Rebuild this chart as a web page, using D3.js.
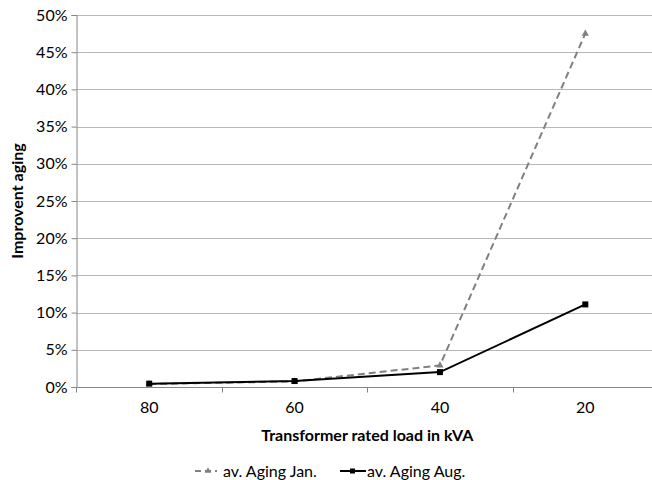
<!DOCTYPE html>
<html>
<head>
<meta charset="utf-8">
<script src="https://cdn.jsdelivr.net/npm/d3@7"></script>
<style>
  body { margin: 0; background: #fff; }
  text { font-family: Lato, "Open Sans", sans-serif; fill: #000; }
</style>
</head>
<body>
<script>
var width = 652, height = 480;

// data
var loads = ['80', '60', '40', '20'];
var agingJan = [0.004, 0.0075, 0.029, 0.475];
var agingAug = [0.0045, 0.008, 0.020, 0.111];
var yTicks = [0, 0.05, 0.10, 0.15, 0.20, 0.25, 0.30, 0.35, 0.40, 0.45, 0.50];

var margin = {left: 76.5, right: 658, top: 15, bottom: 387};
var fontSize = '16px';

var svg = d3.select('body').append('svg')
	.attr('width', width)
	.attr('height', height);

var xscale = d3.scaleBand().domain(loads).range([margin.left, margin.right]);
var yscale = d3.scaleLinear().domain([0, 0.5]).range([margin.bottom, margin.top]);

// gridlines
svg.append('g')
	.selectAll('line')
	.data(yTicks.slice(1))
	.enter().append('line')
	.attr('x1', margin.left).attr('x2', margin.right)
	.attr('y1', d => Math.round(yscale(d)) + 0.5)
	.attr('y2', d => Math.round(yscale(d)) + 0.5)
	.attr('stroke', '#b8b8b8')
	.attr('stroke-width', 1);

// y axis
var y_axis = d3.axisLeft(yscale)
	.tickValues(yTicks)
	.tickFormat(d3.format('.0%'))
	.tickSize(5)
	.tickPadding(4);
var yg = svg.append('g')
	.attr('transform', 'translate(' + margin.left + ',0)')
	.call(y_axis);
yg.selectAll('.domain').attr('stroke', '#868686');
yg.selectAll('line').attr('stroke', '#868686');
yg.selectAll('text').style('font-size', fontSize).attr('fill', '#000');

// x axis
var x_axis = d3.axisBottom(xscale).tickSize(0).tickPadding(14);
var xg = svg.append('g')
	.attr('transform', 'translate(0,' + (Math.round(margin.bottom) + 0.5) + ')')
	.call(x_axis);
xg.select('.domain').attr('stroke', '#868686').attr('d', 'M' + margin.left + ',0H' + margin.right);
xg.selectAll('text').style('font-size', fontSize).attr('fill', '#000');
// category boundary ticks
xg.selectAll('.bound')
	.data(loads.slice(1))
	.enter().append('line')
	.attr('class', 'bound')
	.attr('x1', d => Math.round(xscale(d)) + 0.5)
	.attr('x2', d => Math.round(xscale(d)) + 0.5)
	.attr('y1', 0).attr('y2', 5)
	.attr('stroke', '#868686');
xg.append('line')
	.attr('x1', margin.left).attr('x2', margin.left)
	.attr('y1', 0).attr('y2', 5)
	.attr('stroke', '#868686');

var cx = d => xscale(d) + xscale.bandwidth() / 2;

var line = d3.line()
	.x((d, i) => cx(loads[i]))
	.y(d => yscale(d));

// Jan series
svg.append('path')
	.datum(agingJan)
	.attr('d', line)
	.attr('fill', 'none')
	.attr('stroke', '#808080')
	.attr('stroke-width', 2)
	.attr('stroke-dasharray', '7,4');
svg.selectAll('.jan')
	.data(agingJan)
	.enter().append('path')
	.attr('class', 'jan')
	.attr('d', d3.symbol(d3.symbolTriangle, 22))
	.attr('transform', (d, i) => 'translate(' + cx(loads[i]) + ',' + yscale(d) + ')')
	.attr('fill', '#808080');

// Aug series
svg.append('path')
	.datum(agingAug)
	.attr('d', line)
	.attr('fill', 'none')
	.attr('stroke', '#000')
	.attr('stroke-width', 2);
svg.selectAll('.aug')
	.data(agingAug)
	.enter().append('rect')
	.attr('class', 'aug')
	.attr('x', (d, i) => cx(loads[i]) - 3)
	.attr('y', d => yscale(d) - 3)
	.attr('width', 6).attr('height', 6)
	.attr('fill', '#000');

// axis titles
svg.append('text')
	.attr('x', (margin.left + margin.right) / 2)
	.attr('y', 441)
	.attr('text-anchor', 'middle')
	.style('font-size', fontSize)
	.style('font-weight', 'bold')
	.text('Transformer rated load in kVA');

svg.append('text')
	.attr('transform', 'translate(23,' + ((margin.top + margin.bottom) / 2) + ') rotate(-90)')
	.attr('text-anchor', 'middle')
	.style('font-size', fontSize)
	.style('font-weight', 'bold')
	.text('Improvent aging');

// legend
var legend = svg.append('g').attr('transform', 'translate(0,471)');
legend.append('line')
	.attr('x1', 195).attr('x2', 217).attr('y1', 0).attr('y2', 0)
	.attr('stroke', '#808080').attr('stroke-width', 2).attr('stroke-dasharray', '6,4');
legend.append('path')
	.attr('d', d3.symbol(d3.symbolTriangle, 18))
	.attr('transform', 'translate(208,0)')
	.attr('fill', '#808080');
legend.append('text')
	.attr('x', 223).attr('y', 5.5)
	.style('font-size', fontSize)
	.text('av. Aging Jan.');
legend.append('line')
	.attr('x1', 340).attr('x2', 366).attr('y1', 0).attr('y2', 0)
	.attr('stroke', '#000').attr('stroke-width', 2);
legend.append('rect')
	.attr('x', 350).attr('y', -2.5).attr('width', 5).attr('height', 5)
	.attr('fill', '#000');
legend.append('text')
	.attr('x', 367).attr('y', 5.5)
	.style('font-size', fontSize)
	.text('av. Aging Aug.');
</script>
</body>
</html>
